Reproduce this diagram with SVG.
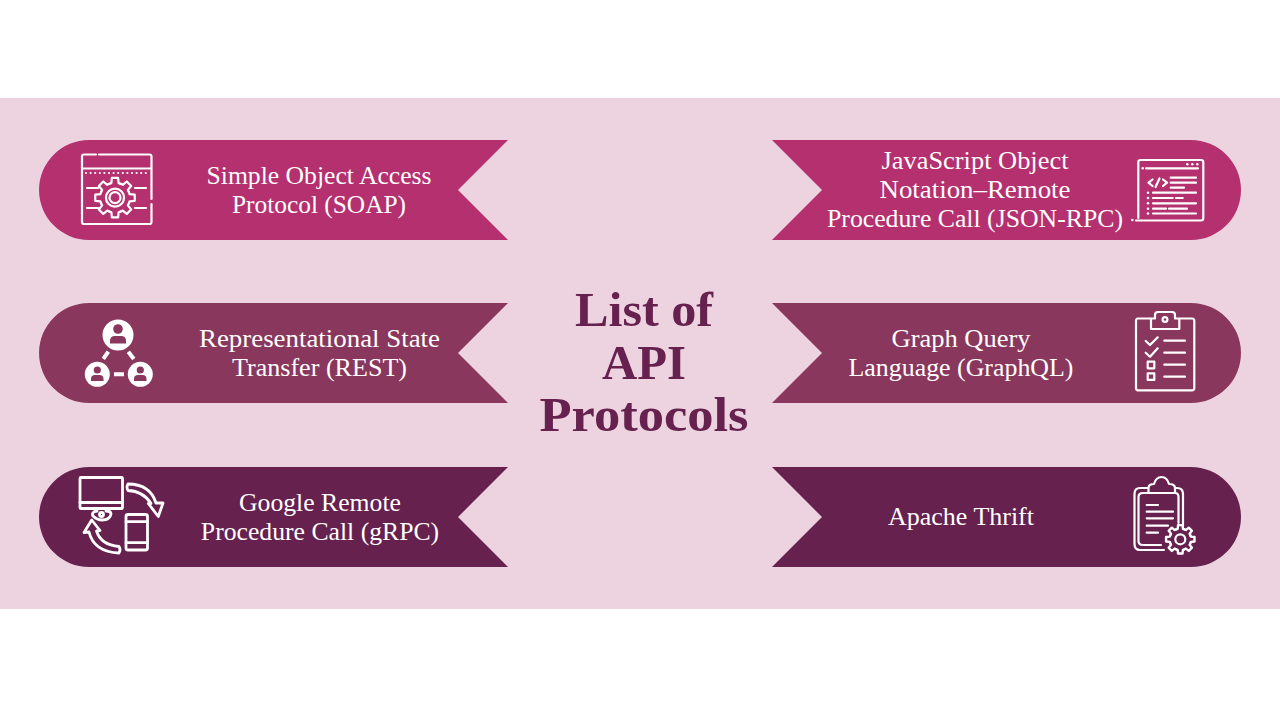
<svg xmlns="http://www.w3.org/2000/svg" width="1280" height="720" viewBox="0 0 1280 720">
<style>
.t{font-family:"Liberation Serif","Times New Roman",serif;font-size:25.7px;fill:#fff;text-anchor:middle}
.h{font-family:"Liberation Serif","DejaVu Serif",serif;font-size:48px;font-weight:700;fill:#66214f;text-anchor:middle}
.i{fill:none;stroke:#fff;stroke-width:2.2;stroke-linecap:round;stroke-linejoin:round}
.th{stroke-width:2.8}
.w{fill:#fff}
</style>
<defs>
<path id="tooth" d="M-5.74 -13.86L-3.63 -14.55L-3.13 -19.75H3.13L3.63 -14.55L5.74 -13.86"/>
<g id="gear">
<use href="#tooth"/><use href="#tooth" transform="rotate(45)"/><use href="#tooth" transform="rotate(90)"/><use href="#tooth" transform="rotate(135)"/><use href="#tooth" transform="rotate(180)"/><use href="#tooth" transform="rotate(225)"/><use href="#tooth" transform="rotate(270)"/><use href="#tooth" transform="rotate(315)"/>
</g>
</defs>
<rect width="1280" height="720" fill="#fff"/>
<rect y="98" width="1280" height="511" fill="#edd3e0"/>
<g id="title"><text class="h" x="644" y="326" textLength="138" lengthAdjust="spacingAndGlyphs">List of</text><text class="h" x="644" y="379" textLength="84" lengthAdjust="spacingAndGlyphs">API</text><text class="h" x="644" y="431" textLength="209" lengthAdjust="spacingAndGlyphs">Protocols</text></g>
<g id="n1"><path fill="#b5306e" d="M89 140H508L458 190L508 240H89A50 50 0 0 1 89 140Z"/><text class="t" x="319" y="184" textLength="225" lengthAdjust="spacingAndGlyphs">Simple Object Access</text><text class="t" x="319" y="213" textLength="174" lengthAdjust="spacingAndGlyphs">Protocol (SOAP)</text>
<g class="i"><path d="M96 154.500H84Q82 154.500 82 156.500V222Q82 224 84 224H149.500Q151.500 224 151.500 222V204M151.500 199V156.500Q151.500 154.500 149.500 154.500H99M82 168.500H151.500M87 188H98M135 188H146M87 208H98M135 208H146"/><path d="M86 173H146" stroke-dasharray="0 4.6"/><use href="#gear" transform="translate(115 197.700)"/><circle cx="115" cy="197.700" r="9"/><circle cx="115" cy="197.700" r="5.500"/></g></g>
<g id="n2"><path fill="#8a375d" d="M89 303H508L458 353L508 403H89A50 50 0 0 1 89 303Z"/><text class="t" x="319.500" y="347" textLength="241" lengthAdjust="spacingAndGlyphs">Representational State</text><text class="t" x="319.500" y="376" textLength="175" lengthAdjust="spacingAndGlyphs">Transfer (REST)</text>
<circle class="w" cx="118" cy="335" r="15.500"/><circle class="w" cx="97.300" cy="374.300" r="12.500"/><circle class="w" cx="140.300" cy="374.300" r="12.500"/>
<g fill="#8a375d"><circle cx="118" cy="329" r="4.800"/><path d="M110 343.500V341Q110 336 115 336H121Q126 336 126 341V343.500Z"/><circle cx="97.300" cy="370" r="3.600"/><path d="M91 381V379Q91 375 95 375H99.500Q103.500 375 103.500 379V381Z"/><circle cx="140.300" cy="370" r="3.600"/><path d="M134 381V379Q134 375 138 375H142.500Q146.500 375 146.500 379V381Z"/></g>
<path d="M108.300 351.700L103.300 358.800M128.300 351.700L133.800 359M114 374.300H124" fill="none" stroke="#fff" stroke-width="4"/></g>
<g id="n3"><path fill="#66214f" d="M89 467H508L458 517L508 567H89A50 50 0 0 1 89 467Z"/><text class="t" x="320" y="511">Google Remote</text><text class="t" x="320" y="540">Procedure Call (gRPC)</text>
<g class="i th"><rect x="80" y="477.500" width="42.500" height="31" rx="1"/><path d="M80 502.500H122.500M97 509V511Q91 512 93 516Q97 520 102 520Q110 520 111 514Q111 511 106 511V509"/><circle cx="101.500" cy="514.500" r="2"/><rect x="126" y="514.500" width="21.500" height="35.500" rx="2"/><path d="M126 521.700H147.500M126 542.700H147.500"/><path d="M128 484Q150 484 156 503H163L158.300 516.500L148.300 503.500H151Q143 491 128 490.500Q126 487 128 484Z"/><path d="M119 546.500Q101 545 96.500 531L100 530.500L91.700 520L84 532.500L89 532Q94 552 119 553Q121 550 119 546.500Z"/></g></g>
<g id="n4"><path fill="#b5306e" d="M772 140H1191A50 50 0 0 1 1191 240H772L822 190Z"/><text class="t" x="975" y="169" textLength="187" lengthAdjust="spacingAndGlyphs">JavaScript Object</text><text class="t" x="975" y="198" textLength="191" lengthAdjust="spacingAndGlyphs">Notation–Remote</text><text class="t" x="975" y="227" textLength="296" lengthAdjust="spacingAndGlyphs">Procedure Call (JSON-RPC)</text>
<g class="i"><path d="M1136 220.500H1201Q1203.300 220.500 1203.300 218V162Q1203.300 160 1201 160H1140.500Q1138.300 160 1138.300 162V218M1146 168.300H1198M1170.700 177.700H1196M1170.700 182.700H1196M1170.700 187.700H1184M1153 192.700H1196M1153 198H1172.700M1176 198H1182.700M1153 203.300H1196M1153 208.700H1166M1169 208.700H1187M1153 213.500H1196M1152.500 179.500L1148.500 182.700L1152.500 186M1159.500 178.500L1155.500 187M1163 179.500L1167 182.700L1163 186"/></g>
<g class="w"><circle cx="1132.300" cy="220" r="1.300"/><circle cx="1142.700" cy="168.300" r="1.300"/><circle cx="1187.300" cy="164.300" r="1.300"/><circle cx="1192.300" cy="164.300" r="1.300"/><circle cx="1197.300" cy="164.300" r="1.300"/><circle cx="1148" cy="192.700" r="1.300"/><circle cx="1148" cy="198" r="1.300"/><circle cx="1148" cy="203.300" r="1.300"/><circle cx="1148" cy="208.700" r="1.300"/><circle cx="1148" cy="213.500" r="1.300"/></g></g>
<g id="n5"><path fill="#8a375d" d="M772 303H1191A50 50 0 0 1 1191 403H772L822 353Z"/><text class="t" x="961" y="347" textLength="139" lengthAdjust="spacingAndGlyphs">Graph Query</text><text class="t" x="961" y="376" textLength="225" lengthAdjust="spacingAndGlyphs">Language (GraphQL)</text>
<g class="i"><path d="M1151 318.500H1138Q1136 318.500 1136 321V388Q1136 390.300 1138 390.300H1192Q1194.300 390.300 1194.300 388V321Q1194.300 318.500 1192 318.500H1179.300M1151 329H1179.300V318.500H1175V315Q1175 312 1172 312H1158Q1155 312 1155 315V318.500H1151Z"/><circle cx="1165" cy="319.500" r="2.400"/><path d="M1145.700 341L1150 345L1157.700 337.300M1145.700 352.700L1150 356.700L1157.700 348.300M1164.300 340.700H1185M1164.300 352.700H1185M1164.300 364.700H1185M1164.300 376.700H1185"/><rect x="1147.700" y="361.700" width="6.600" height="6.600"/><rect x="1147.700" y="373.300" width="6.600" height="6.600"/></g></g>
<g id="n6"><path fill="#66214f" d="M772 467H1191A50 50 0 0 1 1191 567H772L822 517Z"/><text class="t" x="961" y="525" textLength="146" lengthAdjust="spacingAndGlyphs">Apache Thrift</text>
<g class="i"><path d="M1148 488H1140Q1134.500 488 1134.500 494V544Q1134.500 550 1140 550H1164M1175 488H1177Q1183 488 1183 494V526M1148 493H1143Q1138.500 493 1138.500 497V541Q1138.500 545 1143 545H1161M1175 493Q1178.500 493 1178.500 497V523M1148.500 493H1175V488Q1175 484 1169 484Q1167 477 1161.500 477Q1156 477 1154 484Q1148.500 484 1148.500 488ZM1146.700 505H1158M1146.700 511.700H1173M1146.700 518.300H1173M1146.700 525.700H1168M1146.700 532.700H1158"/><g transform="translate(1180.300 539.300) scale(.72)" stroke-width="3.300"><use href="#gear"/></g><circle cx="1180.300" cy="539.300" r="5"/></g></g>
</svg>
